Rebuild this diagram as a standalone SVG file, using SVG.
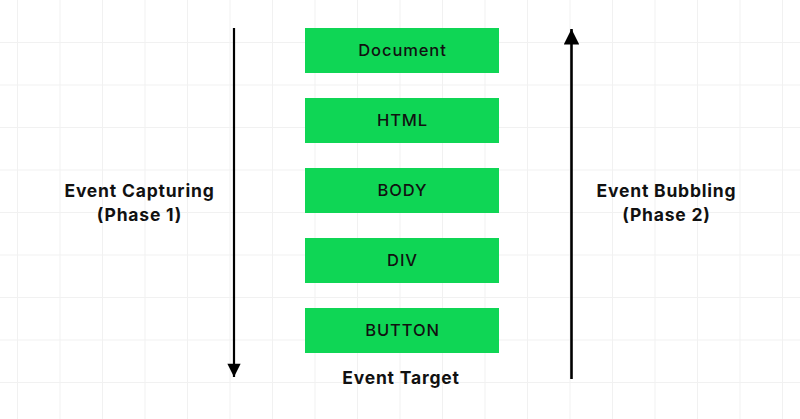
<svg xmlns="http://www.w3.org/2000/svg" width="800" height="419" viewBox="0 0 800 419">
<style>
.grid line{stroke:#f1f1f1;stroke-width:1}
.box{fill:#0fd655}
.bt{font-family:Inter,"Noto Sans",sans-serif;font-size:16.5px;font-weight:500;fill:#111;text-anchor:middle;letter-spacing:0.9px}
.lbl{font-family:Inter,"Noto Sans",sans-serif;font-size:17.5px;font-weight:700;fill:#111;text-anchor:middle;letter-spacing:0.8px}
.conn{stroke:#000;stroke-width:2.2;fill:none}
</style>
<defs>
<marker id="ah" viewBox="0 0 10 10" refX="10" refY="5" markerWidth="6.5" markerHeight="6" markerUnits="strokeWidth" orient="auto">
<path d="M0,0L10,5L0,10z" fill="#000"/>
</marker>
</defs>
<rect width="800" height="419" fill="#fff"/>
<g class="grid">
<line x1="17.5" y1="0" x2="17.5" y2="419"/><line x1="60" y1="0" x2="60" y2="419"/><line x1="102.5" y1="0" x2="102.5" y2="419"/><line x1="145" y1="0" x2="145" y2="419"/><line x1="187.5" y1="0" x2="187.5" y2="419"/><line x1="230" y1="0" x2="230" y2="419"/><line x1="272.5" y1="0" x2="272.5" y2="419"/><line x1="315" y1="0" x2="315" y2="419"/><line x1="357.5" y1="0" x2="357.5" y2="419"/><line x1="400" y1="0" x2="400" y2="419"/><line x1="442.5" y1="0" x2="442.5" y2="419"/><line x1="485" y1="0" x2="485" y2="419"/><line x1="527.5" y1="0" x2="527.5" y2="419"/><line x1="570" y1="0" x2="570" y2="419"/><line x1="612.5" y1="0" x2="612.5" y2="419"/><line x1="655" y1="0" x2="655" y2="419"/><line x1="697.5" y1="0" x2="697.5" y2="419"/><line x1="740" y1="0" x2="740" y2="419"/><line x1="782.5" y1="0" x2="782.5" y2="419"/>
<line x1="0" y1="42.5" x2="800" y2="42.5"/><line x1="0" y1="85" x2="800" y2="85"/><line x1="0" y1="127.5" x2="800" y2="127.5"/><line x1="0" y1="170" x2="800" y2="170"/><line x1="0" y1="212.5" x2="800" y2="212.5"/><line x1="0" y1="255" x2="800" y2="255"/><line x1="0" y1="297.5" x2="800" y2="297.5"/><line x1="0" y1="340" x2="800" y2="340"/><line x1="0" y1="382.5" x2="800" y2="382.5"/>
</g>
<g id="connectors">
<line class="conn" x1="234" y1="28" x2="234" y2="377" marker-end="url(#ah)"/>
<line class="conn" x1="571.5" y1="379" x2="571.5" y2="29" marker-end="url(#ah)" style="stroke-width:2.6"/>
</g>
<g id="document"><rect class="box" x="305" y="28" width="194" height="45"/><text class="bt" x="402.5" y="56">Document</text></g>
<g id="html"><rect class="box" x="305" y="98" width="194" height="45"/><text class="bt" x="402.5" y="126">HTML</text></g>
<g id="body"><rect class="box" x="305" y="168" width="194" height="45"/><text class="bt" x="402.5" y="196">BODY</text></g>
<g id="div"><rect class="box" x="305" y="238" width="194" height="45"/><text class="bt" x="402.5" y="266">DIV</text></g>
<g id="button"><rect class="box" x="305" y="308" width="194" height="45"/><text class="bt" x="402.5" y="336">BUTTON</text></g>
<g id="event-target"><text class="lbl" x="401" y="384">Event Target</text></g>
<g id="capturing"><text class="lbl" x="139.5" y="197">Event Capturing</text><text class="lbl" x="139.5" y="221">(Phase 1)</text></g>
<g id="bubbling"><text class="lbl" x="666.5" y="197">Event Bubbling</text><text class="lbl" x="666.5" y="221">(Phase 2)</text></g>
</svg>
